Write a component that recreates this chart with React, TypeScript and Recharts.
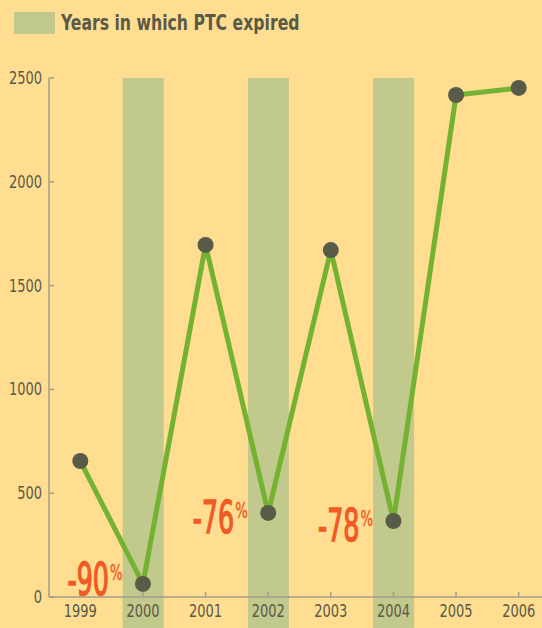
import React from "react";
import { ComposedChart, Bar, Line, XAxis, YAxis, LabelList } from "recharts";

const years = ["1999", "2000", "2001", "2002", "2003", "2004", "2005", "2006"];
const capacity = [655, 63, 1696, 405, 1671, 366, 2418, 2452];
const ptcExpired = ["2000", "2002", "2004"];
const yTicks = [0, 500, 1000, 1500, 2000, 2500];
const drops: Record<string, string> = { "2000": "-90", "2002": "-76", "2004": "-78" };

const BG = "#FFDD91";
const BAND = "#C2C98C";
const LINE = "#74B231";
const DOT = "#595B49";
const AXIS = "#A29D8A";
const TEXT = "#5A5A48";
const RED = "#F05A24";
const FONT = "'DejaVu Sans Condensed', 'DejaVu Sans', sans-serif";

const data = years.map((y, i) => ({
  year: y,
  value: capacity[i],
  band: ptcExpired.includes(y) ? 2500 : 0,
}));

// band runs past the x axis down to the bottom edge
function BandShape(props: any) {
  const { x, y, width, height } = props;
  if (!height) return null;
  return <rect x={x} y={y} width={width} height={height + 40} fill={BAND} />;
}

function YTick({ x, y, payload }: any) {
  const ax = x + 7;
  return (
    <g>
      <line x1={ax} x2={ax + 5} y1={y} y2={y} stroke={AXIS} strokeWidth={1.5} />
      <text transform={`translate(${x},${y + 6}) scale(0.85,1)`} textAnchor="end" fill={TEXT} fontSize={17} fontFamily={FONT}>
        {payload.value}
      </text>
    </g>
  );
}

function XTick({ x, y, payload }: any) {
  return (
    <g>
      <line x1={x} x2={x} y1={y - 5} y2={y} stroke={AXIS} strokeWidth={1.5} />
      <text transform={`translate(${x},${y + 20}) scale(0.85,1)`} textAnchor="middle" fill={TEXT} fontSize={17} fontFamily={FONT}>
        {payload.value}
      </text>
    </g>
  );
}

function DropLabel({ x, y, index }: any) {
  const t = drops[years[index]];
  if (!t) return null;
  const right = x - 34;
  const base = Math.min(y + 20, 595);
  return (
    <g fill={RED} stroke={RED} fontFamily={FONT}>
      <text transform={`translate(${right},${base}) scale(0.64,1)`} textAnchor="end" fontSize={44} strokeWidth={1.4}>{t}</text>
      <text transform={`translate(${right + 1},${base - 15}) scale(0.7,1)`} textAnchor="start" fontSize={21} strokeWidth={0.4}>%</text>
    </g>
  );
}

export default function App() {
  return (
    <div style={{ position: "absolute", left: 0, top: 0, width: 542, height: 628, overflow: "hidden", background: BG }}>
      <div style={{ position: "absolute", left: 14, top: 11, display: "flex", alignItems: "center", fontFamily: FONT }}>
        <span style={{ display: "inline-block", width: 41, height: 22, background: BAND }} />
        <span
          style={{
            marginLeft: 6,
            fontSize: 21,
            fontWeight: 700,
            color: TEXT,
            whiteSpace: "nowrap",
            display: "inline-block",
            transform: "scaleX(0.83)",
            transformOrigin: "left center",
          }}
        >
          Years in which PTC expired
        </span>
      </div>
      <ComposedChart width={550} height={628} data={data} margin={{ top: 78, right: 0, bottom: 0, left: 0 }}>
        <XAxis
          dataKey="year"
          height={31}
          axisLine={{ stroke: AXIS, strokeWidth: 1.5 }}
          tickLine={false}
          tickSize={0}
          tickMargin={0}
          tick={<XTick />}
          interval={0}
        />
        <YAxis
          domain={[0, 2500]}
          ticks={yTicks}
          width={49}
          axisLine={{ stroke: AXIS, strokeWidth: 1.5 }}
          tickLine={false}
          tickSize={0}
          tickMargin={7}
          tick={<YTick />}
          interval={0}
        />
        <Bar isAnimationActive={false} dataKey="band" barSize={41} shape={<BandShape />} />
        <Line
          isAnimationActive={false}
          type="linear"
          dataKey="value"
          stroke={LINE}
          strokeWidth={5}
          dot={{ r: 8, fill: DOT, stroke: "none" }}
          activeDot={false}
        >
          <LabelList dataKey="value" content={<DropLabel />} />
        </Line>
      </ComposedChart>
    </div>
  );
}
